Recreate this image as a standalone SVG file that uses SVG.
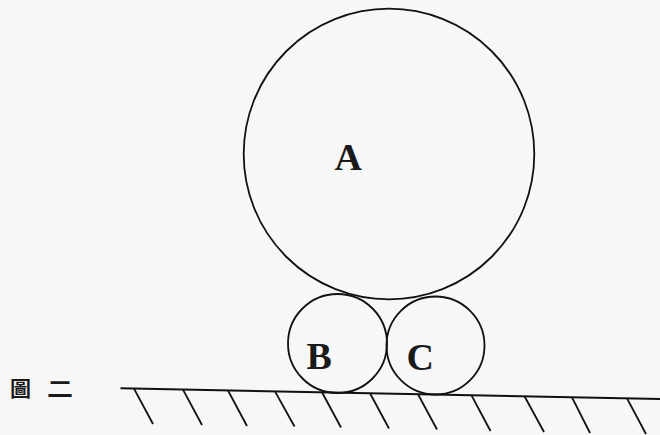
<svg xmlns="http://www.w3.org/2000/svg" width="660" height="435" viewBox="0 0 660 435">
<style>
.c{fill:none;stroke:#111;stroke-width:1.8}
.g{stroke:#111;stroke-width:2;fill:none}
.h{stroke:#111;stroke-width:1.8}
.l{font-family:"Liberation Serif",serif;font-weight:bold;font-size:38px;fill:#1a1a1a}
.t{font-family:"Noto Sans CJK TC","Noto Sans CJK SC",sans-serif;font-size:20px;font-weight:bold;fill:#1a1a1a}
</style>
<rect width="660" height="435" fill="#f7f7f7"/>
<g id="ground">
<line class="g" x1="120.5" y1="388.3" x2="660" y2="399"/>
<g class="h">
<line x1="134" y1="388.6" x2="153" y2="424"/>
<line x1="183" y1="389.6" x2="202" y2="425"/>
<line x1="228" y1="390.5" x2="247" y2="426"/>
<line x1="275" y1="391.4" x2="294.5" y2="426.5"/>
<line x1="322" y1="392.3" x2="341" y2="427.5"/>
<line x1="370" y1="393.3" x2="389" y2="428.5"/>
<line x1="418" y1="394.2" x2="437" y2="429.5"/>
<line x1="471.5" y1="395.3" x2="490.5" y2="431"/>
<line x1="524.5" y1="396.3" x2="544" y2="432"/>
<line x1="572" y1="397.3" x2="590" y2="433"/>
<line x1="627" y1="398.3" x2="646" y2="434"/>
</g>
</g>
<g id="A">
<circle class="c" cx="389" cy="154" r="145.3"/>
<text class="l" x="334.5" y="170">A</text>
</g>
<g id="B">
<circle class="c" cx="337.5" cy="343.5" r="49.5"/>
<text class="l" x="306.5" y="368.5">B</text>
</g>
<g id="C">
<circle class="c" cx="435.5" cy="345.5" r="49"/>
<text class="l" x="406.5" y="370">C</text>
</g>
<g id="caption">
<text class="t" x="10" y="396" style="font-size:21px">圖</text>
<text class="t" x="47" y="396" style="font-size:21px" textLength="26" lengthAdjust="spacingAndGlyphs">二</text>
</g>
</svg>
